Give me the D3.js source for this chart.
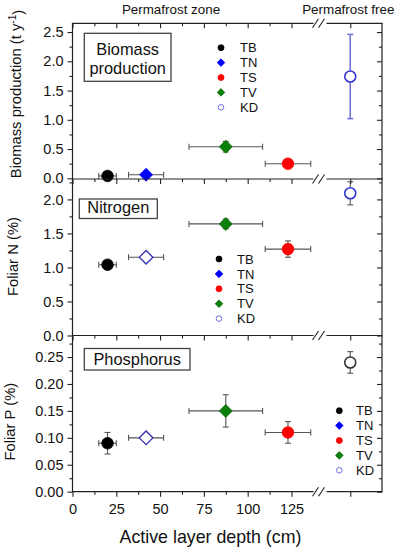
<!DOCTYPE html>
<html>
<head>
<meta charset="utf-8">
<script src="https://cdn.jsdelivr.net/npm/d3@7"></script>
<style>
  body { margin: 0; background: #fff; }
  svg { display: block; font-family: "Liberation Sans", Arial, sans-serif; }
</style>
</head>
<body>
<svg id="chart"></svg>
<script>
// sites and active layer depth (KD sits in the permafrost free part, no depth)
const sites = ["TB", "TN", "TS", "TV", "KD"];
const depth = [20, 42, 123, 87.5, null];
const depthErr = [5, 10, 13, 21, 0];

const biomass = [0.04, 0.06, 0.25, 0.54, 1.74];
const biomassErr = [0.02, 0.02, 0.03, 0.09, 0.72];
const foliarN = [1.04, 1.15, 1.27, 1.64, 2.09];
const foliarNErr = [0.03, 0.02, 0.12, 0.07, 0.17];
const foliarP = [0.09, 0.10, 0.11, 0.15, 0.24];
const foliarPErr = [0.02, 0.005, 0.02, 0.03, 0.02];

const depthTicks = [0, 25, 50, 75, 100, 125];
const biomassTicks = [0, 0.5, 1.0, 1.5, 2.0, 2.5];
const nTicks = [0, 0.5, 1.0, 1.5, 2.0];
const pTicks = [0, 0.05, 0.10, 0.15, 0.20, 0.25];

const width = 398, height = 550;
const left = 72.5, right = 382;
const breakL = 313.5, breakR = 326.5;

const svg = d3.select("#chart").attr("width", width).attr("height", height);

const x = d3.scaleLinear().domain([0, 137]).range([left, breakL - 1]);
const xFree = d3.scalePoint().domain(["KD"]).range([breakR, 374]);
const xPos = (i) => depth[i] == null ? xFree(sites[i]) : x(depth[i]);

const diamond = (s) => `M0,${-s}L${s},0L0,${s}L${-s},0Z`;

// marker look per panel: [shape, fill, stroke]
const panels = [
  {
    values: biomass, errors: biomassErr, ticks: biomassTicks, fmt: ".1f",
    y: d3.scaleLinear().domain([-0.012, 2.65]).range([179, 23.3]),
    title: ["Biomass production (t y", "-1", ")"], titleX: 20.5, titleY: 94,
    box: { x: 84.3, y: 33.3, w: 86.7, h: 48, lines: ["Biomass", "production"], base: [54.5, 73.5] },
    legend: { x: 221, tx: 240, y: 47.7 },
    marks: {
      TB: ["circle", "#000", "#000"], TN: ["diamond", "#0000ff", "#0000ff"],
      TS: ["circle", "#ff0000", "#ff0000"], TV: ["diamond", "#0a800a", "#0a6a0a"],
      KD: ["circle", "#fff", "#3434d0"]
    },
    kdErr: "#6e6ed2"
  },
  {
    values: foliarN, errors: foliarNErr, ticks: nTicks, fmt: ".1f",
    y: d3.scaleLinear().domain([0, 2.3]).range([335.5, 179]),
    title: ["Foliar N (%)"], titleX: 18, titleY: 256.5,
    box: { x: 79.3, y: 199, w: 78, h: 19.5, lines: ["Nitrogen"], base: [213] },
    legend: { x: 219, tx: 237, y: 259 },
    marks: {
      TB: ["circle", "#000", "#000"], TN: ["diamond", "#fff", "#3030b0"],
      TS: ["circle", "#ff0000", "#ff0000"], TV: ["diamond", "#0a800a", "#0a6a0a"],
      KD: ["circle", "#fff", "#3434d0"]
    },
    kdErr: "#555"
  },
  {
    values: foliarP, errors: foliarPErr, ticks: pTicks, fmt: ".2f",
    y: d3.scaleLinear().domain([0, 0.29]).range([491.7, 335.5]),
    title: ["Foliar P (%)"], titleX: 14.5, titleY: 421.7,
    box: { x: 84.3, y: 348.5, w: 105.7, h: 21.5, lines: ["Phosphorus"], base: [365] },
    legend: { x: 339.3, tx: 356, y: 410.7 },
    marks: {
      TB: ["circle", "#000", "#000"], TN: ["diamond", "#fff", "#3030b0"],
      TS: ["circle", "#ff0000", "#ff0000"], TV: ["diamond", "#0a800a", "#0a6a0a"],
      KD: ["circle", "#fff", "#333"]
    },
    kdErr: "#555"
  }
];

const legendMarks = {
  TB: ["circle", "#000", "#000"], TN: ["diamond", "#0000ff", "#0000ff"],
  TS: ["circle", "#ff0000", "#ff0000"], TV: ["diamond", "#0a800a", "#0a6a0a"],
  KD: ["circle", "#fff", "#7070dd"]
};

function drawMark(g, m, cx, cy, big) {
  const [shape, fill, stroke] = m;
  const open = fill === "#fff";
  if (shape === "circle") {
    g.append("circle").attr("cx", cx).attr("cy", cy)
      .attr("r", big ? (open ? 5.5 : 5.8) : (open ? 2.8 : 3))
      .attr("fill", fill).attr("stroke", stroke)
      .attr("stroke-width", open ? (big ? 1.6 : 1) : 0.8);
  } else {
    g.append("path").attr("transform", `translate(${cx},${cy})`)
      .attr("d", diamond(big ? (open ? 6.8 : 6.5) : 3.8))
      .attr("fill", fill).attr("stroke", stroke)
      .attr("stroke-width", open ? 1.3 : 0.8);
  }
}

panels.forEach((p) => {
  const g = svg.append("g");
  const y = p.y;
  const [y0, y1] = y.range();

  // minor ticks between majors and above the last one when it fits
  const step = p.ticks[1] - p.ticks[0];
  const minor = p.ticks.map((t) => t + step / 2).filter((t) => t <= y.domain()[1]);

  // left axis
  const la = g.append("g").attr("transform", `translate(${left},0)`)
    .call(d3.axisLeft(y).tickValues(p.ticks).tickSize(5).tickPadding(4).tickFormat(d3.format(p.fmt)));
  g.append("g").attr("transform", `translate(${left},0)`)
    .call(d3.axisLeft(y).tickValues(minor).tickSize(3).tickFormat(""));
  // right axis, ticks inside
  g.append("g").attr("transform", `translate(${right},0)`)
    .call(d3.axisLeft(y).tickValues(p.ticks).tickSize(5).tickFormat(""));
  g.append("g").attr("transform", `translate(${right},0)`)
    .call(d3.axisLeft(y).tickValues(minor).tickSize(3).tickFormat(""));
  g.selectAll(".domain").remove();
  la.selectAll("text").attr("font-size", "14.5px").attr("fill", "#111");

  // frame sides
  g.append("line").attr("x1", left).attr("x2", left).attr("y1", y1).attr("y2", y0);
  g.append("line").attr("x1", right).attr("x2", right).attr("y1", y1).attr("y2", y0);

  // y title
  const t = g.append("text")
    .attr("transform", `translate(${p.titleX},${p.titleY}) rotate(-90)`)
    .attr("text-anchor", "middle").attr("font-size", "14.8px").attr("fill", "#111");
  t.append("tspan").text(p.title[0]);
  if (p.title.length > 1) {
    t.append("tspan").attr("dy", "-0.45em").attr("font-size", "10px").text(p.title[1]);
    t.append("tspan").attr("dy", "0.45em").text(p.title[2]);
  }

  // label box
  g.append("rect").attr("x", p.box.x).attr("y", p.box.y)
    .attr("width", p.box.w).attr("height", p.box.h)
    .attr("fill", "#fff").attr("stroke", "#444").attr("stroke-width", 1.3);
  p.box.lines.forEach((s, k) => {
    g.append("text").attr("x", p.box.x + p.box.w / 2).attr("y", p.box.base[k])
      .attr("text-anchor", "middle").attr("font-size", "16.4px").attr("fill", "#111").text(s);
  });

  // error bars
  sites.forEach((s, i) => {
    const cx = xPos(i), cy = y(p.values[i]);
    const col = s === "KD" ? p.kdErr : "#555";
    const w = s === "KD" && p.kdErr !== "#555" ? 1.5 : 1.1;
    if (depthErr[i] > 0) {
      const xa = x(depth[i] - depthErr[i]), xb = x(depth[i] + depthErr[i]);
      g.append("line").attr("x1", xa).attr("x2", xb).attr("y1", cy).attr("y2", cy)
        .attr("stroke", col).attr("stroke-width", w);
      [xa, xb].forEach((xx) => g.append("line").attr("x1", xx).attr("x2", xx)
        .attr("y1", cy - 3).attr("y2", cy + 3).attr("stroke", col).attr("stroke-width", w));
    }
    const ya = y(p.values[i] - p.errors[i]), yb = y(p.values[i] + p.errors[i]);
    g.append("line").attr("x1", cx).attr("x2", cx).attr("y1", ya).attr("y2", yb)
      .attr("stroke", col).attr("stroke-width", w);
    [ya, yb].forEach((yy) => g.append("line").attr("x1", cx - 3).attr("x2", cx + 3)
      .attr("y1", yy).attr("y2", yy).attr("stroke", col).attr("stroke-width", w));
  });

  // markers
  sites.forEach((s, i) => drawMark(g, p.marks[s], xPos(i), y(p.values[i]), true));

  // legend
  sites.forEach((s, k) => {
    const ly = p.legend.y + k * 14.9;
    drawMark(g, legendMarks[s], p.legend.x, ly, false);
    g.append("text").attr("x", p.legend.tx).attr("y", ly).attr("dy", "0.36em")
      .attr("font-size", "13px").attr("fill", "#111").text(s);
  });
});

svg.selectAll("line").filter(function () { return !this.getAttribute("stroke"); })
  .attr("stroke", "#222").attr("stroke-width", 1.2);
svg.selectAll(".tick line").attr("stroke", "#222").attr("stroke-width", 1.1);

// horizontal edges with the axis break
const edges = [23.3, 179, 335.5, 491.7];
const minorX = depthTicks.map((t) => t + 12.5).filter((t) => t < 137);
edges.forEach((ey, k) => {
  const g = svg.append("g");
  const last = k === edges.length - 1;
  const ax = g.append("g").attr("transform", `translate(0,${ey})`)
    .call(d3.axisBottom(x).tickValues(depthTicks).tickSize(5).tickPadding(7)
      .tickFormat(last ? d3.format("d") : ""));
  g.append("g").attr("transform", `translate(0,${ey})`)
    .call(d3.axisBottom(x).tickValues(minorX).tickSize(3).tickFormat(""));
  g.append("g").attr("transform", `translate(0,${ey})`)
    .call(d3.axisBottom(xFree).tickSize(5).tickFormat(""));
  g.selectAll(".domain").remove();
  g.selectAll(".tick line").attr("stroke", "#222").attr("stroke-width", 1.1);
  ax.selectAll("text").attr("font-size", "14.5px").attr("fill", "#111");

  g.append("line").attr("x1", left - 0.6).attr("x2", breakL).attr("y1", ey).attr("y2", ey)
    .attr("stroke", "#222").attr("stroke-width", 1.2);
  g.append("line").attr("x1", breakR).attr("x2", right + 0.6).attr("y1", ey).attr("y2", ey)
    .attr("stroke", "#222").attr("stroke-width", 1.2);
  [breakL - 1, breakL + 5].forEach((bx) => {
    g.append("line").attr("x1", bx).attr("x2", bx + 6).attr("y1", ey + 4.5).attr("y2", ey - 4.5)
      .attr("stroke", "#222").attr("stroke-width", 1.1);
  });
});

// zone labels and x title
svg.append("text").attr("x", 171).attr("y", 14).attr("text-anchor", "middle")
  .attr("font-size", "13.4px").attr("fill", "#111").text("Permafrost zone");
svg.append("text").attr("x", 348.3).attr("y", 14).attr("text-anchor", "middle")
  .attr("font-size", "13.4px").attr("fill", "#111").text("Permafrost free");
svg.append("text").attr("x", 210.5).attr("y", 542.7).attr("text-anchor", "middle")
  .attr("font-size", "17.8px").attr("fill", "#111").text("Active layer depth (cm)");
</script>
</body>
</html>
